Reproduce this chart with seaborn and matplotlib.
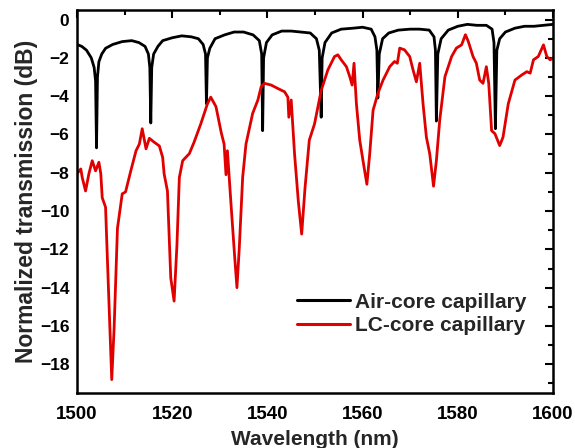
import numpy as np
import pandas as pd
import matplotlib
matplotlib.use("Agg")
import matplotlib.pyplot as plt
from matplotlib.ticker import MultipleLocator
import seaborn as sns

# Air-core capillary (black)
air_wl = [1500, 1501, 1502, 1503, 1503.6, 1503.9, 1504.1, 1504.3, 1504.6, 1505.2, 1506, 1507.5,
          1509.5, 1511.5, 1513, 1514.3, 1515.0, 1515.3, 1515.5, 1515.7, 1516.1, 1517, 1518,
          1520, 1522, 1524, 1525.5, 1526.5, 1527.0, 1527.2, 1527.4, 1527.9, 1529, 1531, 1533,
          1535, 1537, 1538.3, 1538.8, 1539.0, 1539.2, 1539.8, 1541, 1543, 1545, 1547, 1549,
          1550.3, 1550.9, 1551.3, 1551.5, 1552.1, 1553.5, 1555.5, 1558, 1560, 1561.8, 1562.6,
          1563.0, 1563.2, 1563.5, 1564.2, 1565.5, 1567.5, 1570, 1572, 1574, 1575, 1575.3,
          1575.5, 1575.8, 1576.5, 1578, 1580, 1582, 1584, 1586, 1587.2, 1587.6, 1587.9, 1588.2,
          1588.8, 1590, 1592, 1594, 1596, 1598, 1600]
air_db = [-1.3, -1.4, -1.6, -2.0, -2.5, -3.2, -6.7, -3.0, -2.2, -1.8, -1.5, -1.3,
          -1.15, -1.1, -1.2, -1.4, -1.8, -2.5, -5.4, -2.5, -1.8, -1.4, -1.1,
          -0.95, -0.85, -0.9, -1.0, -1.3, -1.8, -4.4, -2.0, -1.5, -1.0, -0.8, -0.65,
          -0.65, -0.8, -1.1, -1.8, -5.8, -2.0, -1.2, -0.8, -0.6, -0.6, -0.65, -0.7,
          -1.0, -1.6, -5.1, -2.0, -1.2, -0.7, -0.5, -0.45, -0.4, -0.5, -0.9,
          -1.6, -4.1, -1.8, -1.0, -0.7, -0.55, -0.5, -0.5, -0.55, -0.9, -1.6,
          -5.3, -1.8, -1.0, -0.55, -0.35, -0.25, -0.3, -0.3, -0.5, -1.2, -5.7, -1.6,
          -1.0, -0.65, -0.45, -0.35, -0.35, -0.3, -0.25]

# LC-core capillary (red)
lc_wl = [1500, 1500.8, 1501.1, 1501.8, 1502.5, 1503.2, 1503.9, 1504.6, 1505.0, 1505.3, 1506.0,
         1506.4, 1507.3, 1507.8, 1508.5, 1509.5, 1510.2, 1511.3, 1512.4, 1513.1, 1513.7, 1514.5,
         1515.2, 1516.2, 1517.3, 1518.0, 1518.3, 1519.0, 1519.7, 1520.4, 1521.0, 1521.5, 1522.2,
         1523.6, 1524.6, 1526.0, 1527.4, 1528.1, 1529.2, 1530.3, 1530.9, 1531.3, 1531.6, 1532.4,
         1533.1, 1533.6, 1534.1, 1534.8, 1535.5, 1536.9, 1538.0, 1538.7, 1539.4, 1540.8, 1542.2,
         1543.6, 1544.3, 1544.5, 1545.0, 1545.7, 1546.5, 1547.2, 1547.9, 1548.8, 1549.9, 1551.3,
         1552.7, 1554.1, 1554.8, 1555.5, 1556.6, 1557.3, 1557.8, 1558.2, 1558.7, 1559.4, 1560.3,
         1560.9, 1561.5, 1562.2, 1563.2, 1564.3, 1565.7, 1566.7, 1567.3, 1567.8, 1568.8, 1569.9,
         1570.6, 1571.3, 1572.0, 1572.7, 1573.4, 1574.1, 1574.9, 1575.5, 1576.2, 1577.3, 1578.7,
         1579.7, 1580.8, 1581.6, 1582.2, 1583.2, 1583.9, 1584.6, 1585.3, 1586.0, 1586.5, 1587.1,
         1587.8, 1588.8, 1589.5, 1590.6, 1592.0, 1593.4, 1594.5, 1595.2, 1595.9, 1596.9, 1598.0,
         1598.7, 1599.4, 1600]
lc_db = [-8.05, -7.8, -8.25, -8.95, -8.05, -7.37, -7.9, -7.45, -8.05, -9.3, -9.8,
         -12.6, -18.8, -16.1, -10.9, -9.1, -9.0, -7.9, -6.85, -6.5, -5.7, -6.75,
         -6.2, -6.4, -6.6, -7.2, -8.05, -8.95, -13.5, -14.7, -11.75, -8.25, -7.37,
         -7.0, -6.4, -5.45, -4.4, -4.05, -4.55, -5.9, -6.5, -8.1, -6.85, -9.8,
         -12.3, -14.0, -11.9, -8.25, -6.5, -4.9, -4.2, -3.5, -3.33, -3.42, -3.6,
         -3.77, -4.05, -5.1, -4.2, -7.0, -9.5, -11.2, -8.8, -6.3, -5.45, -3.7,
         -2.63, -1.93, -1.84, -2.1, -2.46, -2.98, -3.42, -2.28, -4.4, -6.3, -7.7,
         -8.6, -7.0, -4.74, -3.86, -3.16, -2.46, -2.19, -2.28, -1.49, -1.58, -1.93,
         -2.63, -3.25, -2.28, -4.4, -6.14, -7.0, -8.7, -7.37, -5.26, -2.98, -1.93,
         -1.49, -1.32, -0.79, -1.14, -1.93, -2.28, -3.16, -3.33, -2.46, -3.33, -5.8,
         -5.96, -6.58, -6.14, -4.4, -3.16, -2.9, -2.72, -2.8, -2.1, -1.93, -1.32,
         -1.93, -2.1, -2.0]

series_names = ["Air-core capillary", "LC-core capillary"]
series_colors = ["#000000", "#e00000"]

df = pd.concat([
    pd.DataFrame({"wl": air_wl, "db": air_db, "s": series_names[0]}),
    pd.DataFrame({"wl": lc_wl, "db": lc_db, "s": series_names[1]}),
])

sns.set_style("white")
plt.rcParams["font.family"] = ["Liberation Sans", "DejaVu Sans"]
plt.rcParams["font.weight"] = "bold"

fig = plt.figure(figsize=(5.75, 4.48), dpi=100)
ax = fig.add_axes([77 / 575, 1 - 393 / 448, 476 / 575, 383 / 448])

sns.lineplot(data=df, x="wl", y="db", hue="s", palette=series_colors,
             hue_order=series_names, estimator=None, sort=False, lw=2.0, ax=ax)

ax.set_xlim(1500, 1600)
ax.set_ylim(-19.5, 0.5)
ax.xaxis.set_major_locator(MultipleLocator(20))
ax.xaxis.set_minor_locator(MultipleLocator(10))
ax.yaxis.set_major_locator(MultipleLocator(2))
ax.yaxis.set_minor_locator(MultipleLocator(1))
ax.tick_params(which="both", direction="in", top=True, right=True, width=1.5,
               colors="black")
ax.tick_params(axis="x", which="major", labelsize=13.5, pad=9.5)
ax.tick_params(axis="y", which="major", labelsize=12.5, pad=5.5)
ax.tick_params(which="major", length=6)
ax.tick_params(which="minor", length=3.5)
for lab in ax.get_xticklabels() + ax.get_yticklabels():
    lab.set_fontweight("bold")
for sp in ax.spines.values():
    sp.set_linewidth(1.8)
    sp.set_color("black")

ax.set_xlabel("Wavelength (nm)", fontsize=15, fontweight="bold", labelpad=5)
ax.set_ylabel("Normalized transmission (dB)", fontsize=16.5, fontweight="bold", labelpad=1.5)

leg = ax.legend(loc="upper left", bbox_to_anchor=(0.441, 0.289), frameon=False,
                fontsize=15, handlelength=2.55, handletextpad=0.24, labelspacing=0.22,
                borderpad=0)
for t in leg.get_texts():
    t.set_fontweight("bold")
for h in leg.get_lines():
    h.set_linewidth(2.2)

fig.savefig("out.png", dpi=100)
